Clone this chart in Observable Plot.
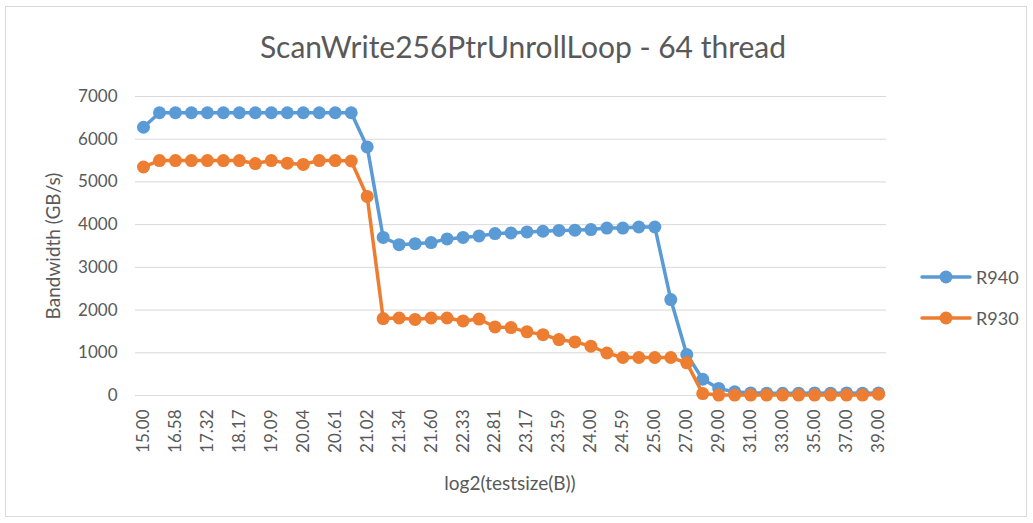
<!DOCTYPE html>
<html>
<head>
<meta charset="utf-8">
<script src="https://cdn.jsdelivr.net/npm/d3@7"></script>
<script src="https://cdn.jsdelivr.net/npm/@observablehq/plot@0.6"></script>
<style>
  body { margin: 0; background: #fff; font-family: Lato, "Open Sans", sans-serif; color: #595959; }
  #wrap { position: relative; width: 1033px; height: 523px; overflow: hidden; background: #fff; }
  #frame { position: absolute; left: 5px; top: 6px; width: 1022px; height: 511px; border: 1px solid #d9d9d9; box-sizing: border-box; }
  #title { position: absolute; left: 523px; top: 46px; transform: translate(-50%, -50%); font-size: 30px; white-space: nowrap; }
  #ylab { position: absolute; left: 52px; top: 246px; transform: translate(-50%, -50%) rotate(-90deg); font-size: 19px; white-space: nowrap; }
  #xlab { position: absolute; left: 510px; top: 482px; transform: translate(-50%, -50%); font-size: 19px; white-space: nowrap; }
  .leg { position: absolute; left: 920px; height: 20px; display: flex; align-items: center; font-size: 18px; }
  .leg svg { margin-right: 4px; }
  #chart { position: absolute; left: 0; top: 0; }
</style>
</head>
<body>
<div id="wrap">
  <div id="frame"></div>
  <div id="chart"></div>
  <div id="title"></div>
  <div id="ylab"></div>
  <div id="xlab"></div>
  <div id="legend"></div>
</div>
<script>
const titleText = "ScanWrite256PtrUnrollLoop - 64 thread";
const yLabel = "Bandwidth (GB/s)";
const xLabel = "log2(testsize(B))";

const categories = [
  "15.00","16.00","16.58","17.00","17.32","17.58","18.17","18.58","19.09","19.58",
  "20.04","20.32","20.61","20.81","21.02","21.17","21.34","21.46","21.60","22.00",
  "22.33","22.58","22.81","23.00","23.17","23.32","23.59","23.81","24.00","24.32",
  "24.59","24.81","25.00","26.00","27.00","28.00","29.00","30.00","31.00","32.00",
  "33.00","34.00","35.00","36.00","37.00","38.00","39.00"
];
const shownTicks = categories.filter((d, i) => i % 2 === 0);

const r940 = [
  6280, 6620, 6620, 6620, 6620, 6620, 6620, 6620, 6620, 6620,
  6620, 6620, 6620, 6620, 5820, 3700, 3530, 3555, 3580, 3665,
  3700, 3735, 3790, 3805, 3830, 3845, 3865, 3870, 3885, 3920,
  3920, 3945, 3945, 2245, 960, 380, 165, 85, 60, 55,
  50, 55, 60, 55, 60, 55, 60
];
const r930 = [
  5350, 5500, 5500, 5500, 5500, 5500, 5500, 5430, 5500, 5440,
  5410, 5500, 5500, 5490, 4660, 1800, 1815, 1780, 1815, 1815,
  1745, 1790, 1605, 1590, 1490, 1425, 1310, 1255, 1155, 995,
  890, 890, 890, 890, 765, 45, 10, 10, 10, 10,
  10, 10, 10, 10, 10, 10, 30
];
const seriesNames = ["R940", "R930"];
const seriesColors = ["#5B9BD5", "#ED7D31"];
const yTicks = [0, 1000, 2000, 3000, 4000, 5000, 6000, 7000];

const rows = [];
[r940, r930].forEach((vals, s) => {
  vals.forEach((v, i) => rows.push({ x: categories[i], y: v, s: seriesNames[s] }));
});

const marks = [Plot.ruleY(yTicks, { stroke: "#d9d9d9", strokeWidth: 1 })];
seriesNames.forEach(name => {
  const sub = rows.filter(d => d.s === name);
  marks.push(Plot.line(sub, { x: "x", y: "y", stroke: "s", strokeWidth: 3.5, strokeLinejoin: "round", strokeLinecap: "round" }));
  marks.push(Plot.dot(sub, { x: "x", y: "y", fill: "s", r: 6.5, stroke: "none" }));
});

const chart = Plot.plot({
  width: 1033,
  height: 523,
  marginTop: 96,
  marginBottom: 128,
  marginLeft: 135,
  marginRight: 147,
  style: { fontFamily: "Lato, 'Open Sans', sans-serif", fontSize: "17px", color: "#595959", background: "transparent", overflow: "visible" },
  x: { type: "point", domain: categories, padding: 0.5, ticks: shownTicks, tickRotate: -90, tickSize: 0, tickPadding: 14, label: null },
  y: { domain: [0, 7000], ticks: yTicks, tickFormat: d => String(d), tickSize: 0, tickPadding: 18, label: null },
  color: { domain: seriesNames, range: seriesColors },
  marks
});
document.getElementById("chart").appendChild(chart);

document.getElementById("title").textContent = titleText;
document.getElementById("ylab").textContent = yLabel;
document.getElementById("xlab").textContent = xLabel;

const legendTops = [267, 308];
const legend = document.getElementById("legend");
seriesNames.forEach((name, i) => {
  const div = document.createElement("div");
  div.className = "leg";
  div.style.top = legendTops[i] + "px";
  div.innerHTML = `<svg width="52" height="20"><line x1="2" x2="50" y1="10" y2="10" stroke="${seriesColors[i]}" stroke-width="3.5" stroke-linecap="round"/><circle cx="26" cy="10" r="6.5" fill="${seriesColors[i]}"/></svg><span>${name}</span>`;
  legend.appendChild(div);
});
</script>
</body>
</html>
